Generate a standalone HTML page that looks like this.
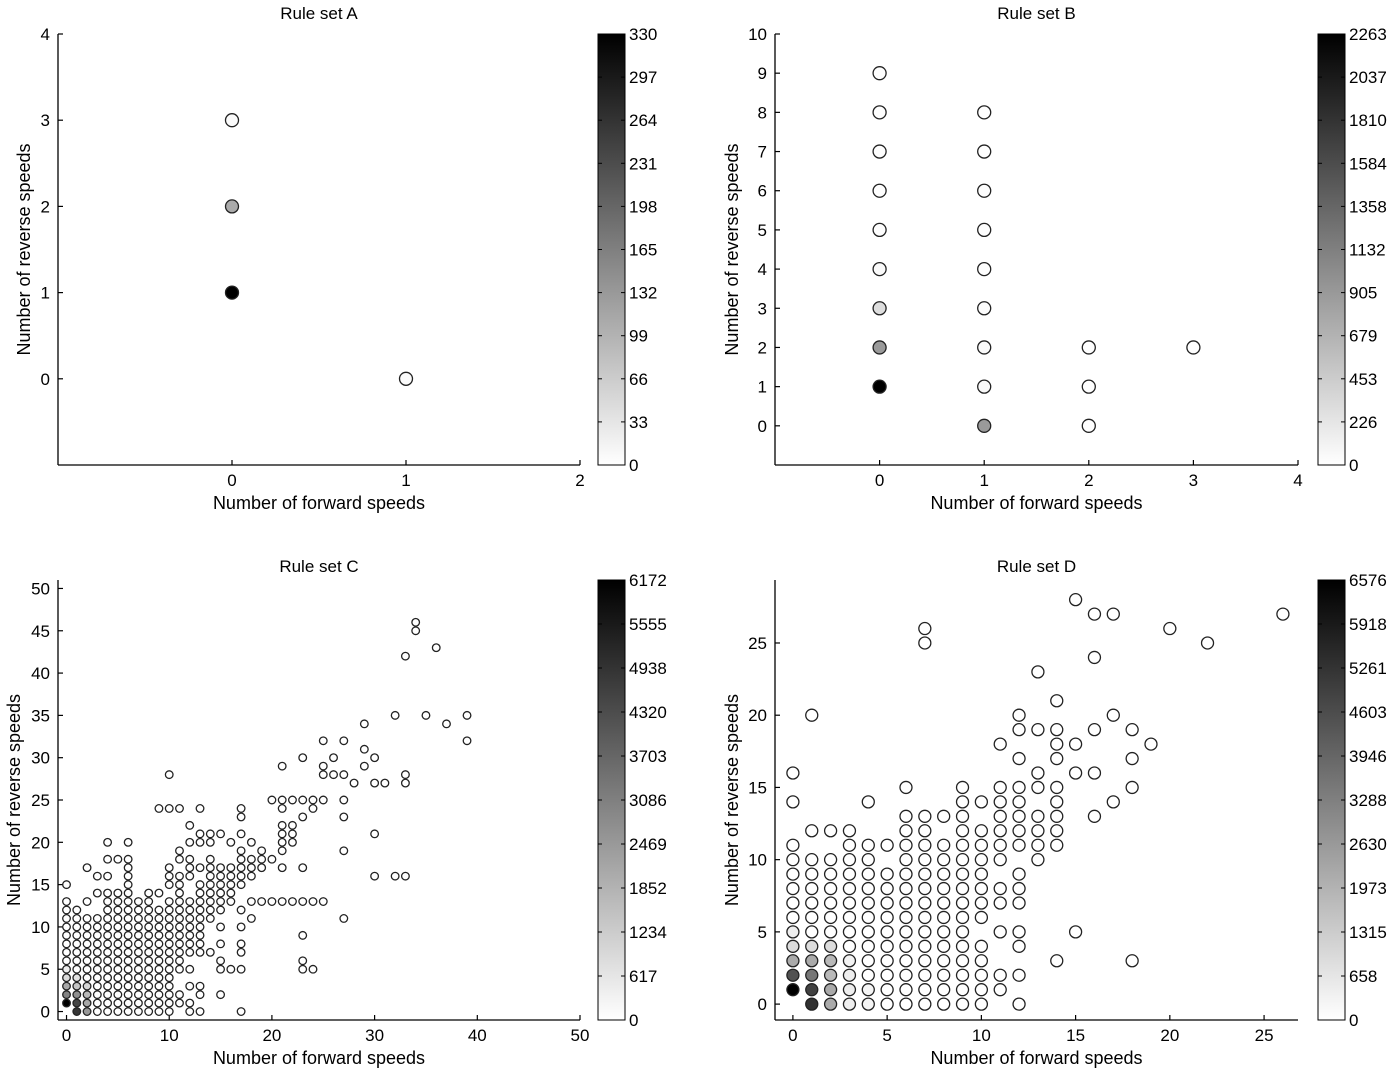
<!DOCTYPE html>
<html><head><meta charset="utf-8"><style>
html,body{margin:0;padding:0;background:#fff;}
svg{display:block;font-family:"Liberation Sans",Arial,sans-serif;}
</style></head><body>
<svg id="chart" width="1400" height="1074" viewBox="0 0 1400 1074" xmlns="http://www.w3.org/2000/svg">
<defs>
<linearGradient id="cbgrad" x1="0" y1="1" x2="0" y2="0"><stop offset="0" stop-color="#fff"/><stop offset="1" stop-color="#000"/></linearGradient>
</defs>
</svg>
<script>
// ---- Panel A data ----
const aX = [0, 0, 0, 1];
const aY = [3, 2, 1, 0];
const aN = [5, 110, 330, 5];
const aTicks = ['0','33','66','99','132','165','198','231','264','297','330'];
// ---- Panel B data ----
const bX = [0,0,0,0,0,0,0,0,0, 1,1,1,1,1,1,1,1,1, 2,2,2, 3];
const bY = [1,2,3,4,5,6,7,8,9, 0,1,2,3,4,5,6,7,8, 0,1,2, 2];
const bN = [2263,900,300,40,20,10,10,10,10, 900,60,40,20,10,10,10,10,10, 10,10,10, 10];
const bTicks = ['0','226','453','679','905','1132','1358','1584','1810','2037','2263'];
// ---- Panel C data (columns of y values) ----
const cColX = [0,1,2,3,4,5,6,7,8,9,10,11,12,13,14,15,16,17,18,19,20,21,22,23,24,25,26,27,28,29,30,31,32,33,34,35,36,37,39];
const cColY = [
 [1,2,3,4,5,6,7,8,9,10,11,12,13,15],
 [0,1,2,3,4,5,6,7,8,9,10,11,12],
 [0,1,2,3,4,5,6,7,8,9,10,11,13,17],
 [0,1,2,3,4,5,6,7,8,9,10,11,14,16],
 [0,1,2,3,4,5,6,7,8,9,10,11,12,13,14,16,18,20],
 [0,1,2,3,4,5,6,7,8,9,10,11,12,13,14,18],
 [0,1,2,3,4,5,6,7,8,9,10,11,12,13,14,15,16,17,18,20],
 [0,1,2,3,4,5,6,7,8,9,10,11,12,13],
 [0,1,2,3,4,5,6,7,8,9,10,11,12,13,14],
 [0,1,2,3,4,5,6,7,8,9,10,11,12,14,24],
 [0,1,2,3,4,5,6,7,8,9,10,11,12,13,15,16,17,24,28],
 [1,2,5,6,7,8,9,10,11,12,13,14,15,16,18,19,24],
 [0,1,3,5,7,8,9,10,11,12,13,16,17,18,20,22],
 [0,2,3,7,8,9,10,11,12,13,14,15,17,20,21,24],
 [7,11,12,13,14,15,16,17,18,20,21],
 [2,5,6,8,10,12,13,14,15,16,17,21],
 [5,13,14,15,16,17,20],
 [0,5,7,8,10,12,15,16,17,18,19,21,23,24],
 [11,13,16,17,18,20],
 [13,17,18,19],
 [13,18,25],
 [13,17,19,20,21,22,24,25,29],
 [13,20,21,22,25],
 [5,6,9,13,17,23,25,30],
 [5,13,24,25],
 [13,25,28,29,32],
 [28,30],
 [11,19,23,25,28,32],
 [27],
 [29,31,34],
 [16,21,27,30],
 [27],
 [16,35],
 [16,27,28,42],
 [45,46],
 [35],
 [43],
 [34],
 [32,35]
];
const cHiX = [0,1,1,0,1,2,2,2,0,1,2,0,1,0];
const cHiY = [1,0,1,2,2,0,1,2,3,3,3,4,4,5];
const cHiN = [6172,4900,4500,3000,2700,2500,2100,1700,2100,1400,1000,900,700,400];
const cTicks = ['0','617','1234','1852','2469','3086','3703','4320','4938','5555','6172'];
// ---- Panel D data (columns of y values) ----
const dColX = [0,1,2,3,4,5,6,7,8,9,10,11,12,13,14,15,16,17,18,19,20,22,26];
const dColY = [
 [1,2,3,4,5,6,7,8,9,10,11,14,16],
 [0,1,2,3,4,5,6,7,8,9,10,12,20],
 [0,1,2,3,4,5,6,7,8,9,10,12],
 [0,1,2,3,4,5,6,7,8,9,10,11,12],
 [0,1,2,3,4,5,6,7,8,9,10,11,14],
 [0,1,2,3,4,5,6,7,8,9,11],
 [0,1,2,3,4,5,6,7,8,9,10,11,12,13,15],
 [0,1,2,3,4,5,6,7,8,9,10,11,12,13,25,26],
 [0,1,2,3,4,5,6,7,8,9,10,11,13],
 [0,1,2,3,4,5,6,7,8,9,10,11,12,13,14,15],
 [0,1,2,3,4,6,7,8,9,10,11,12,14],
 [1,2,5,7,8,10,11,12,13,14,15,18],
 [0,2,4,5,7,8,9,11,12,13,14,15,17,19,20],
 [10,11,12,13,15,16,19,23],
 [3,11,12,13,14,15,17,18,19,21],
 [5,16,18,28],
 [13,16,19,24,27],
 [14,20,27],
 [3,15,17,19],
 [18],
 [26],
 [25],
 [27]
];
const dHiX = [0,1,1,0,1,2,2,2,0,1,2,0,1,2,0,3,3,3,3,4,4];
const dHiY = [1,0,1,2,2,0,1,2,3,3,3,4,4,4,5,0,1,2,3,0,1];
const dHiN = [6576,5300,4900,4500,3500,2200,2200,1800,2200,2200,1800,900,900,900,450,450,450,450,300,250,250];
const dTicks = ['0','658','1315','1973','2630','3288','3946','4603','5261','5918','6576'];

const svg = document.getElementById('chart');
const NS = 'http://www.w3.org/2000/svg';
function mk(tag, attrs, parent){const e=document.createElementNS(NS,tag);for(const k in attrs)e.setAttribute(k,attrs[k]);(parent||svg).appendChild(e);return e;}
function txt(s, attrs, parent){const e=mk('text',attrs,parent);e.textContent=s;return e;}
function grayOf(n,max){const g=Math.round(255*(1-Math.min(1,n/max)));return 'rgb('+g+','+g+','+g+')';}

function panel(cfg){
  const g = mk('g',{});
  
  
  const sx = v => cfg.L + (v - cfg.xmin)/(cfg.xmax - cfg.xmin)*(cfg.R - cfg.L);
  const sy = v => cfg.B - (v - cfg.ymin)/(cfg.ymax - cfg.ymin)*(cfg.B - cfg.T);
  const ax = mk('line',{x1:cfg.L,y1:cfg.B,x2:cfg.R,y2:cfg.B,stroke:'#000','stroke-width':1.3},g);
  
  
  const ay = mk('line',{x1:cfg.L,y1:cfg.T,x2:cfg.L,y2:cfg.B,stroke:'#000','stroke-width':1.3},g);
  
  
  cfg.xticks.forEach(t=>{
    const x=sx(t);
    mk('line',{x1:x,y1:cfg.B,x2:x,y2:cfg.B-5,stroke:'#000','stroke-width':1.2},g);
    const l=txt(String(t),{x:x,y:cfg.B+21,'text-anchor':'middle','font-size':17},g);
    
    
  });
  cfg.yticks.forEach(t=>{
    const y=sy(t);
    mk('line',{x1:cfg.L,y1:y,x2:cfg.L+5,y2:y,stroke:'#000','stroke-width':1.2},g);
    const l=txt(String(t),{x:cfg.L-8,y:y+6,'text-anchor':'end','font-size':17},g);
    
    
  });
  const t=txt(cfg.title,{x:(cfg.L+cfg.R)/2,y:cfg.titleY,'text-anchor':'middle','font-size':17},g);
  
  
  const xl=txt('Number of forward speeds',{x:(cfg.L+cfg.R)/2,y:cfg.B+44,'text-anchor':'middle','font-size':18},g);
  
  
  const yc=(cfg.T+cfg.B)/2;
  const yl=txt('Number of reverse speeds',{x:cfg.ylabX,y:yc,'text-anchor':'middle','font-size':18,transform:'rotate(-90 '+cfg.ylabX+' '+yc+')'},g);
  
  
  cfg.xs.forEach((xv,i)=>{
    const c=mk('circle',{cx:sx(xv),cy:sy(cfg.ys[i]),r:cfg.r,fill:grayOf(cfg.ns[i],cfg.max),stroke:'#222','stroke-width':cfg.sw},g);
    
    
  });
  const cb=mk('rect',{x:cfg.cbx,y:cfg.T,width:27,height:cfg.B-cfg.T,fill:'url(#cbgrad)',stroke:'#000','stroke-width':1},g);
  
  
  cfg.cbTicks.forEach((lab,i)=>{
    const y=cfg.B-(i/(cfg.cbTicks.length-1))*(cfg.B-cfg.T);
    mk('line',{x1:cfg.cbx,y1:y,x2:cfg.cbx+4,y2:y,stroke:'#000','stroke-width':1},g);
    mk('line',{x1:cfg.cbx+23,y1:y,x2:cfg.cbx+27,y2:y,stroke:'#000','stroke-width':1},g);
    const l=txt(lab,{x:cfg.cbx+31,y:y+6,'font-size':17},g);
    
    
  });
}
function expand(colX,colY,hiX,hiY,hiN,def){
  const xs=[],ys=[],ns=[];
  colX.forEach((x,i)=>colY[i].forEach(y=>{
    xs.push(x);ys.push(y);
    let n=def;
    for(let k=0;k<hiX.length;k++) if(hiX[k]===x&&hiY[k]===y) n=hiN[k];
    ns.push(n);
  }));
  return {xs,ys,ns};
}
panel({name:'panel-rule-set-a',title:'Rule set A',titleY:19,L:58,R:580,T:34,B:465,xmin:-1,xmax:2,ymin:-1,ymax:4,
  xticks:[0,1,2],yticks:[0,1,2,3,4],ylabX:30,xs:aX,ys:aY,ns:aN,max:330,r:6.5,sw:1.3,cbx:598,cbTicks:aTicks});
panel({name:'panel-rule-set-b',title:'Rule set B',titleY:19,L:775,R:1298,T:34,B:465,xmin:-1,xmax:4,ymin:-1,ymax:10,
  xticks:[0,1,2,3,4],yticks:[0,1,2,3,4,5,6,7,8,9,10],ylabX:738,xs:bX,ys:bY,ns:bN,max:2263,r:6.5,sw:1.3,cbx:1318,cbTicks:bTicks});
const cD=expand(cColX,cColY,cHiX,cHiY,cHiN,5);
panel({name:'panel-rule-set-c',title:'Rule set C',titleY:572,L:58,R:580,T:580,B:1020,xmin:-0.83,xmax:50,ymin:-1,ymax:51,
  xticks:[0,10,20,30,40,50],yticks:[0,5,10,15,20,25,30,35,40,45,50],ylabX:20,xs:cD.xs,ys:cD.ys,ns:cD.ns,max:6172,r:3.8,sw:1.3,cbx:598,cbTicks:cTicks});
const dD=expand(dColX,dColY,dHiX,dHiY,dHiN,5);
panel({name:'panel-rule-set-d',title:'Rule set D',titleY:572,L:775,R:1298,T:580,B:1020,xmin:-0.95,xmax:26.8,ymin:-1.1,ymax:29.36,
  xticks:[0,5,10,15,20,25],yticks:[0,5,10,15,20,25],ylabX:738,xs:dD.xs,ys:dD.ys,ns:dD.ns,max:6576,r:6,sw:1.3,cbx:1318,cbTicks:dTicks});
</script>
</body></html>
